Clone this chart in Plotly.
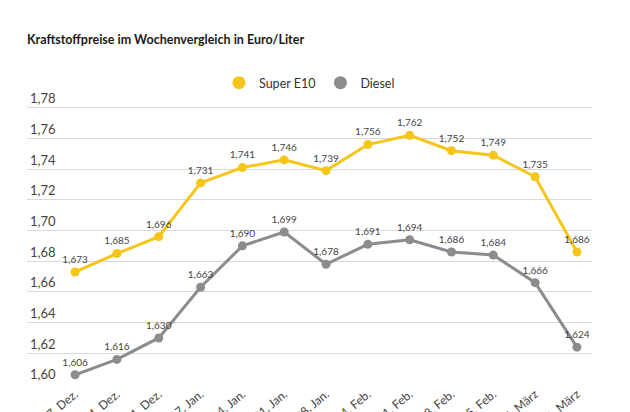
import plotly.graph_objects as go

dates = ["17. Dez.", "24. Dez.", "31. Dez.", "7. Jan.", "14. Jan.", "21. Jan.", "28. Jan.",
         "4. Feb.", "11. Feb.", "18. Feb.", "25. Feb.", "4. März", "11. März"]
e10 = [1.673, 1.685, 1.696, 1.731, 1.741, 1.746, 1.739, 1.756, 1.762, 1.752, 1.749, 1.735, 1.686]
diesel = [1.606, 1.616, 1.630, 1.663, 1.690, 1.699, 1.678, 1.691, 1.694, 1.686, 1.684, 1.666, 1.624]
y_ticks = [1.60, 1.62, 1.64, 1.66, 1.68, 1.70, 1.72, 1.74, 1.76, 1.78]

YELLOW = "#F5C518"
GREY = "#8C8C8C"
FONT = "Lato"

x = list(range(len(dates)))

def fmt(v):
    return f"{v:.3f}".replace(".", ",")

fig = go.Figure()
for name, vals, col in [("Super E10", e10, YELLOW), ("Diesel", diesel, GREY)]:
    fig.add_trace(go.Scatter(
        x=x, y=vals, name=name, mode="lines+markers+text",
        line=dict(color=col, width=3),
        marker=dict(color=col, size=9),
        text=[fmt(v) for v in vals], textposition="top center",
        textfont=dict(family=FONT, size=10, color="#444444"),
        cliponaxis=False, showlegend=False,
    ))
# legend entries (markers only, as in the reference)
for name, col in [("Super E10", YELLOW), ("Diesel", GREY)]:
    fig.add_trace(go.Scatter(
        x=[None], y=[None], name=name, mode="markers",
        marker=dict(color=col, size=13), showlegend=True,
    ))

TOP, BOTTOM = 77, 28
plot_h = 412 - TOP - BOTTOM

fig.update_layout(
    width=630, height=412,
    margin=dict(l=27, r=38, t=TOP, b=BOTTOM),
    paper_bgcolor="white", plot_bgcolor="white",
    separators=",.",
    font=dict(family=FONT, color="#333333"),
    title=dict(text="<b>Kraftstoffpreise im Wochenvergleich in Euro/Liter</b>",
               x=27/630, xanchor="left", y=1-40/412, yanchor="middle",
               font=dict(family=FONT, size=12.5, color="#1a1a1a")),
    legend=dict(orientation="h", x=0.5, xanchor="center",
                y=(412 - BOTTOM - 83) / plot_h, yanchor="middle", yref="paper",
                font=dict(family=FONT, size=12.5, color="#333333"),
                itemsizing="trace", traceorder="normal", bgcolor="rgba(0,0,0,0)"),
    showlegend=True,
)
fig.update_xaxes(
    range=[-1.15, 12.36], tickmode="array", tickvals=x, ticktext=dates,
    tickangle=-40, showgrid=False, zeroline=False, showline=False,
    ticks="",
    tickfont=dict(family=FONT, size=12, color="#444444"), automargin=False,
)
fig.update_yaxes(
    range=[1.60, 1.80], tickmode="array", tickvals=y_ticks, tickformat=".2f",
    ticklabelposition="inside top", showgrid=True, gridcolor="#d9d9d9", gridwidth=1,
    zeroline=False, showline=False,
    tickfont=dict(family=FONT, size=13, color="#444444"), automargin=False,
)
fig.write_html("out.html")
